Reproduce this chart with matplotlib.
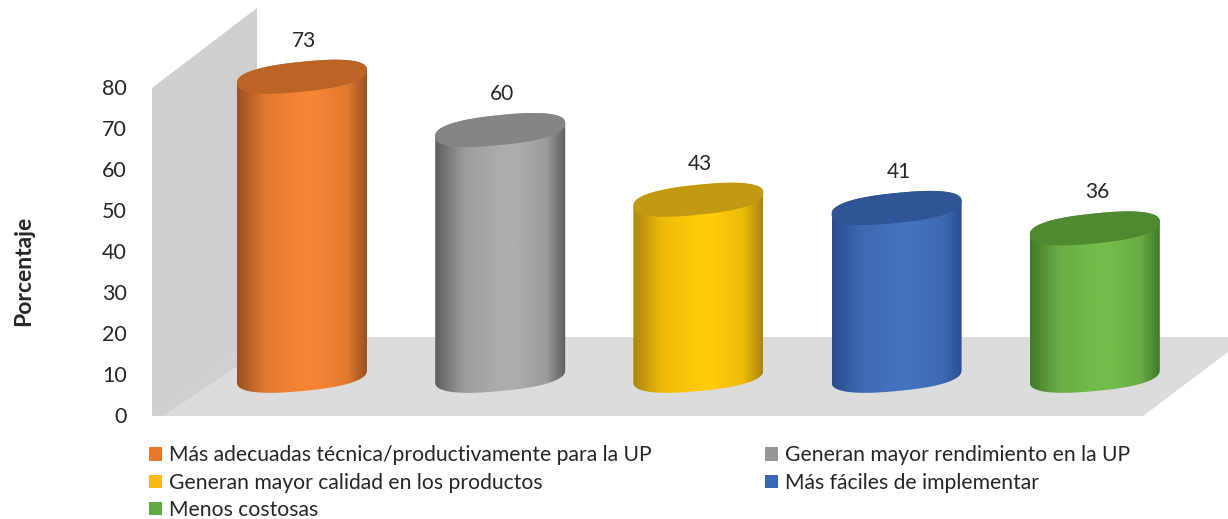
import numpy as np
import matplotlib
matplotlib.use('Agg')
import matplotlib.pyplot as plt
from matplotlib.colors import LinearSegmentedColormap, to_rgb
from matplotlib.patches import Polygon, Patch

plt.rcParams['font.family'] = ['Lato', 'DejaVu Sans']

# data
categories = [
    'Más adecuadas técnica/productivamente para la UP',
    'Generan mayor rendimiento en la UP',
    'Generan mayor calidad en los productos',
    'Más fáciles de implementar',
    'Menos costosas',
]
values = [73, 60, 43, 41, 36]
legend_colors = ['#e8762d', '#969696', '#fdb813', '#3a67b5', '#62a845']
edge_colors = ['#9a5020', '#5e5e5e', '#ab8410', '#2a4c8c', '#427a28']
mid_colors = ['#f58535', '#adadad', '#ffcb08', '#4472bd', '#74bb4c']
cap_colors = ['#bc6426', '#858585', '#c29a12', '#2f5596', '#4f8a30']

W, H = 1228, 519
X0, X_STEP = 302, 198.2      # px of first bar, px between bars
Y0, Y_UNIT = 415, 4.1        # px of value 0, px per unit
BASE = 9.5                   # bars stand this far up the axis (3d floor)


def px(x, y):
    """pixel position in the reference -> data coords"""
    return (x - X0) / X_STEP, (Y0 - y) / Y_UNIT


def ring(i, level, half_w=65, half_h=15, tilt=6.5, start=0, stop=2 * np.pi):
    """tilted, slightly squared ellipse outline round bar i at a given value"""
    t = np.linspace(start, stop, 120)
    c = np.sign(np.cos(t)) * np.abs(np.cos(t)) ** 0.82
    s = np.sign(np.sin(t)) * np.abs(np.sin(t)) ** 0.82
    xs = i + half_w * c / X_STEP
    ys = level + (half_h * s + tilt * c) / Y_UNIT
    return np.column_stack([xs, ys])


def mix(a, b, f):
    a, b = np.array(to_rgb(a)), np.array(to_rgb(b))
    return tuple(a + (b - a) * f)


fig = plt.figure(figsize=(W / 100, H / 100), dpi=100)
ax = fig.add_axes([152 / W, (H - Y0) / H, (W - 152) / W, (Y0 - 87) / H])

# side wall and floor
wall = [px(152, 88), px(257, 8), px(257, 340), px(152, 416)]
floor = [px(257, 337), px(1228, 337), px(1228, 352), px(1143, 416), px(152, 416)]
ax.add_patch(Polygon(wall, closed=True, fc='#cfcfcf', ec='none', clip_on=False, zorder=1))
ax.add_patch(Polygon(floor, closed=True, fc='#dcdcdd', ec='none', clip_on=False, zorder=1.5))
corner = [px(257, 338), px(152, 416), px(163, 416), px(257, 353)]
ax.add_patch(Polygon(corner, closed=True, fc='#d0d0d0', ec='none', clip_on=False, zorder=1.6))

# cylinders
for i, val in enumerate(values):
    top = BASE + val
    lower = ring(i, BASE, half_h=15, tilt=6, start=np.pi, stop=2 * np.pi)
    upper = ring(i, top, start=0, stop=np.pi)
    body = Polygon(np.vstack([lower, upper]), closed=True, fc='none', ec='none',
                   transform=ax.transData)
    ax.add_patch(body)

    soft = mix(edge_colors[i], mid_colors[i], 0.78)
    cmap = LinearSegmentedColormap.from_list(
        f'cyl{i}',
        [(0, edge_colors[i]), (0.22, soft), (0.5, mid_colors[i]),
         (0.62, mid_colors[i]), (0.85, soft), (1, edge_colors[i])])
    grad = np.linspace(0, 1, 256).reshape(1, -1)
    im = ax.imshow(grad, cmap=cmap, aspect='auto', zorder=3,
                   extent=(i - 65 / X_STEP, i + 65 / X_STEP, BASE - 5, top + 5))
    im.set_clip_path(body)
    im.set_clip_box(fig.bbox)  # tallest bar pokes above the 80 line

    ax.add_patch(Polygon(ring(i, top), closed=True, fc=cap_colors[i], ec='none',
                         clip_on=False, zorder=4))
    ax.text(i + 2 / X_STEP, top + 36 / Y_UNIT, str(val), ha='center', va='center',
            fontsize=15, color='#262626', zorder=5)

ax.set_xlim((152 - X0) / X_STEP, (W - X0) / X_STEP)
ax.set_ylim(0, 80)
ax.set_xticks([])
ax.set_yticks(range(0, 81, 10))
ax.tick_params(axis='y', length=0, pad=18, labelsize=15.5, labelcolor='#262626')
for s in ax.spines.values():
    s.set_visible(False)
ax.patch.set_alpha(0)

fig.text(24 / W, 1 - 271 / H, 'Porcentaje', rotation=90, ha='center', va='center',
         fontsize=16.5, fontweight='bold', color='#262626')

# legend is filled by column, so order the entries to read row by row
order = [0, 2, 4, 1, 3]
handles = [Patch(fc=legend_colors[k], ec='none', label=categories[k]) for k in order]
fig.legend(handles=handles, ncol=2, frameon=False, loc='upper left',
           bbox_to_anchor=(142.6 / W, 1 - 439 / H), borderaxespad=0, borderpad=0.3,
           fontsize=15.2, handlelength=0.61, handleheight=0.61, handletextpad=0.33,
           labelspacing=0.35, columnspacing=5.4, labelcolor='#262626')

fig.savefig('out.png', dpi=100)
